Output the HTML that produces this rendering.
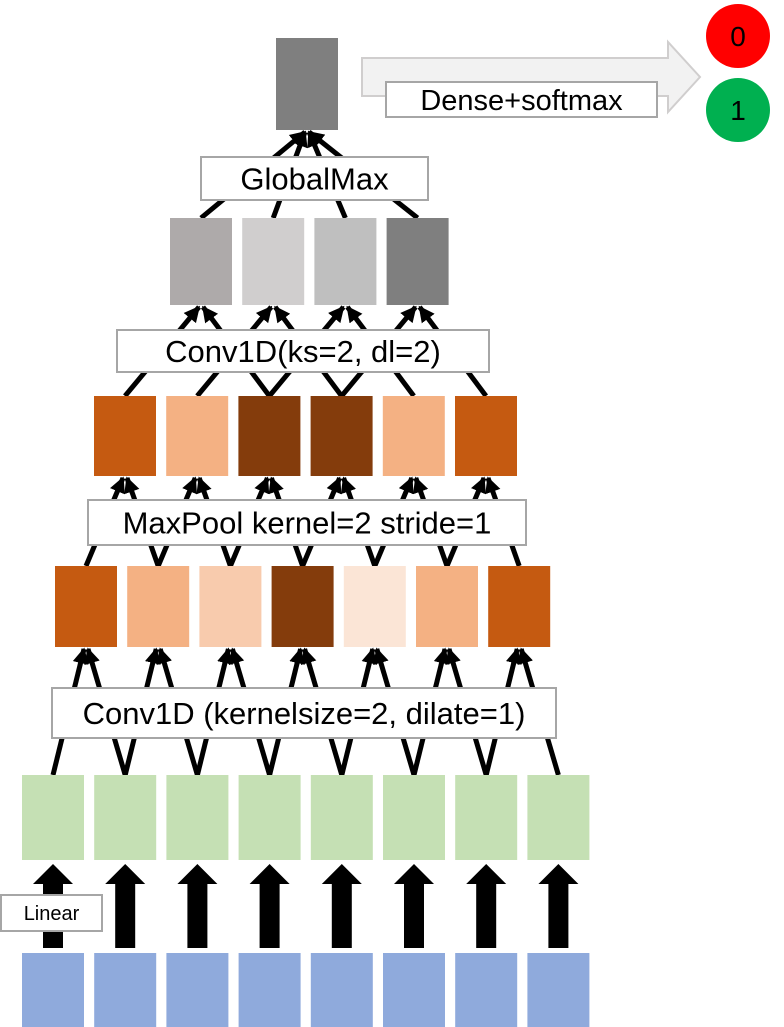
<!DOCTYPE html>
<html><head><meta charset="utf-8"><style>
html,body{margin:0;padding:0;background:#fff;}
svg{display:block;}
text{font-family:"Liberation Sans",sans-serif;}
</style></head><body>
<svg id="d" width="784" height="1027" viewBox="0 0 784 1027" xmlns="http://www.w3.org/2000/svg">
<defs>
<marker id="ah" viewBox="0 0 10 10" refX="9" refY="5" markerWidth="3.2" markerHeight="3.4" orient="auto"><path d="M0,0 L10,5 L0,10 z" fill="#000"/></marker>
</defs>
<g id="lines"></g>
<g id="boxes"></g>
<g id="labels"></g>
</svg>
<script>
const NS='http://www.w3.org/2000/svg';
const gL=document.getElementById('lines'),gB=document.getElementById('boxes'),gT=document.getElementById('labels');
function mk(t,a,p){const e=document.createElementNS(NS,t);for(const k in a)e.setAttribute(k,a[k]);p.appendChild(e);return e;}
const layers=[
 {x0:22,y:953,h:74,cols:Array(8).fill('#8FAADC')},
 {x0:22,y:775,h:85,cols:Array(8).fill('#C5E0B4')},
 {x0:55,y:566,h:81,cols:['#C55A11','#F4B183','#F8CBAD','#843C0C','#FBE5D6','#F4B183','#C55A11']},
 {x0:94,y:396,h:80,cols:['#C55A11','#F4B183','#843C0C','#843C0C','#F4B183','#C55A11']},
 {x0:170,y:218,h:87,cols:['#AEAAAA','#D0CECE','#BFBFBF','#7F7F7F']},
 {x0:276,y:38,h:92,cols:['#7F7F7F']}
];
const W=62,P=72.2;
const pos=layers.map(L=>L.cols.map((c,i)=>({x:L.x0+i*P,cx:L.x0+i*P+W/2,y:L.y,b:L.y+L.h})));
layers.forEach((L,li)=>L.cols.forEach((c,i)=>{
 const r=mk('rect',{x:pos[li][i].x,y:L.y,width:W,height:L.h,fill:c},gB);
 
 
}));
pos[0].forEach((p,i)=>{
 const cx=p.cx,t=864,b=948;
 const a=mk('path',{d:`M${cx-10},${b} L${cx-10},${t+20} L${cx-20},${t+20} L${cx},${t} L${cx+20},${t+20} L${cx+10},${t+20} L${cx+10},${b} Z`,fill:'#000'},gL);
 
 
});
function connect(lo,hi,offs){
 pos[hi].forEach((u,i)=>{
  offs.forEach((o,k)=>{
   const s=pos[lo][o(i)];
   const dx=(s.cx<u.cx?-2:2);
   const l=mk('line',{x1:s.cx,y1:s.y,x2:u.cx+dx,y2:u.b+2,stroke:'#000','stroke-width':5,'marker-end':'url(#ah)'},gL);
   
   
  });
 });
}
connect(1,2,[i=>i,i=>i+1]);
connect(2,3,[i=>i,i=>i+1]);
connect(3,4,[i=>i,i=>i+2]);
connect(4,5,[i=>0,i=>1,i=>2,i=>3]);
function label(name,x,y,w,h,txt,fs){
 const g=mk('g',{},gT);
 
 
 mk('rect',{x:x,y:y,width:w,height:h,fill:'#fff',stroke:'#A6A6A6','stroke-width':2},g);
 const t=mk('text',{x:x+w/2,y:y+h/2+fs*0.36,'text-anchor':'middle','font-size':fs,fill:'#000'},g);
 t.textContent=txt;
}
const ba=mk('path',{d:'M362,58 L668,58 L668,42 L700,77 L668,112 L668,96 L362,96 Z',fill:'#F2F2F2',stroke:'#D0CECE','stroke-width':2},gT);


label('linear-label',1,895,101,36,'Linear',20);
label('conv1d-label',52,688,504,50,'Conv1D (kernelsize=2, dilate=1)',31);
label('maxpool-label',88,500,438,45,'MaxPool kernel=2 stride=1',31);
label('conv1d-dilated-label',117,330,372,42,'Conv1D(ks=2, dl=2)',31);
label('globalmax-label',201,157,227,43,'GlobalMax',31);
label('dense-softmax-label',386,82,271,35,'Dense+softmax',29);
[['#FF0000','0',36],['#00B050','1',110]].forEach((c,i)=>{
 const g=mk('g',{},gT);
 
 
 mk('circle',{cx:738,cy:c[2],r:32,fill:c[0]},g);
 const t=mk('text',{x:738,y:c[2]+10,'text-anchor':'middle','font-size':28,fill:'#000'},g);
 t.textContent=c[1];
});
</script>
</body></html>
